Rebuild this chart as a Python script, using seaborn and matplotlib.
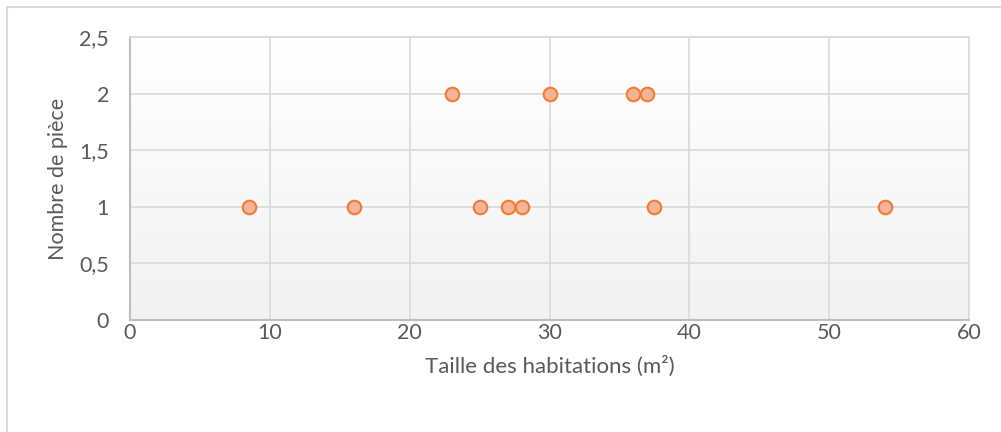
import numpy as np
import pandas as pd
import matplotlib
matplotlib.use("Agg")
import matplotlib.pyplot as plt
import seaborn as sns
from matplotlib.patches import Rectangle
from matplotlib.ticker import FuncFormatter, MultipleLocator

# Surface of each dwelling (m²) and its number of rooms
surface = [8.5, 16, 23, 25, 27, 28, 30, 36, 37, 37.5, 54]
pieces = [1, 1, 2, 1, 1, 1, 2, 2, 2, 1, 1]

x_label = "Taille des habitations (m²)"
y_label = "Nombre de pièce"

df = pd.DataFrame({"surface": surface, "pieces": pieces})

sns.set_theme(style="white")
plt.rcParams["font.family"] = ["Lato", "DejaVu Sans"]

W, H = 1001, 432
fig = plt.figure(figsize=(W / 100, H / 100), dpi=100)
fig.patch.set_facecolor("white")

# light chart-area frame
fig.add_artist(Rectangle((7 / W, -0.1), 1.2, (H - 7) / H + 0.1,
                         transform=fig.transFigure, fill=False,
                         edgecolor="#D9D9D9", linewidth=1.5))

ax = fig.add_axes([130 / W, (H - 320) / H, 839 / W, 283 / H])

# vertical gradient in the plot area
grad = np.linspace(1.0, 0.0, 256).reshape(-1, 1)
top = np.array([1.0, 1.0, 1.0])
bottom = np.array([0xF2, 0xF2, 0xF2]) / 255
img = top[None, None, :] * grad[..., None] + bottom[None, None, :] * (1 - grad[..., None])
ax.imshow(img, extent=[0, 1, 0, 1], transform=ax.transAxes, aspect="auto",
          zorder=0, interpolation="bilinear")

sns.scatterplot(data=df, x="surface", y="pieces", ax=ax, s=95,
                color="#F4B49B", edgecolor="#ED7D31", linewidth=1.5,
                zorder=3, legend=False)

ax.set_xlim(0, 60)
ax.set_ylim(0, 2.5)
ax.xaxis.set_major_locator(MultipleLocator(10))
ax.yaxis.set_major_locator(MultipleLocator(0.5))
ax.yaxis.set_major_formatter(FuncFormatter(lambda v, p: f"{v:g}".replace(".", ",")))

ax.grid(True, color="#D9D9D9", linewidth=1.2, zorder=1)
ax.set_axisbelow(True)
for side in ["top", "right"]:
    ax.spines[side].set_color("#D9D9D9")
    ax.spines[side].set_linewidth(1.2)
for side in ["bottom", "left"]:
    ax.spines[side].set_color("#BFBFBF")
    ax.spines[side].set_linewidth(1.5)

ax.tick_params(axis="both", length=0, labelsize=15.5, labelcolor="#595959")
ax.tick_params(axis="x", pad=2)
ax.tick_params(axis="y", pad=15)

ax.set_xlabel(x_label, fontsize=16, color="#595959", labelpad=9)
ax.set_ylabel(y_label, fontsize=15.5, color="#595959", labelpad=8)

fig.savefig("out.png", dpi=100)
